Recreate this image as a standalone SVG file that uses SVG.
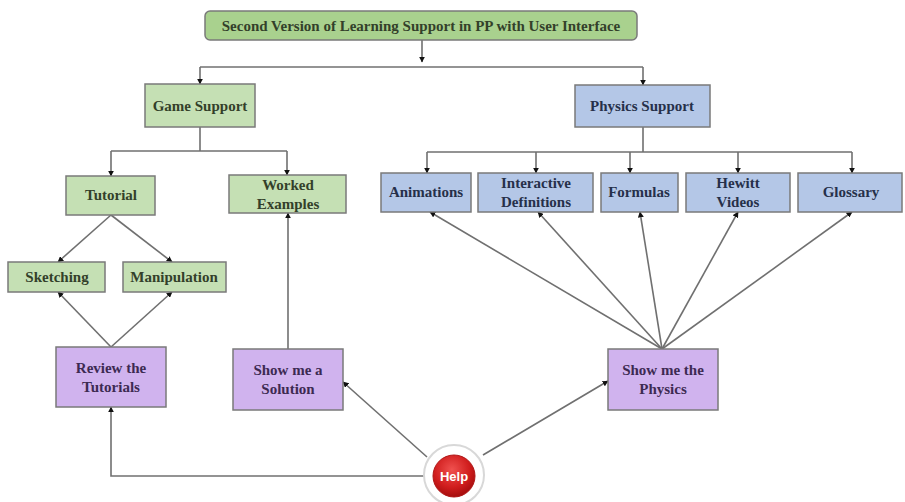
<svg xmlns="http://www.w3.org/2000/svg" width="905" height="502" viewBox="0 0 905 502">
<defs>
<marker id="ah" viewBox="0 0 10 10" refX="9" refY="5" markerWidth="6" markerHeight="6" orient="auto" markerUnits="userSpaceOnUse">
<path d="M0,0 L10,5 L0,10 z" fill="#111"/>
</marker>
<radialGradient id="red" cx="0.45" cy="0.35" r="0.7">
<stop offset="0" stop-color="#f0514f"/>
<stop offset="0.6" stop-color="#d01d1d"/>
<stop offset="1" stop-color="#9c0a0a"/>
</radialGradient>
</defs>
<style>
.g{fill:#c5e0b4;stroke:#7a7a7a;stroke-width:1.5}
.gt{fill:#a9d18e;stroke:#7a7a7a;stroke-width:1.5}
.b{fill:#b4c7e7;stroke:#7a7a7a;stroke-width:1.5}
.p{fill:#d0b3ee;stroke:#7a7a7a;stroke-width:1.5}
text{font-family:"Liberation Serif","Times New Roman",serif;font-size:15px;font-weight:bold;text-anchor:middle}
.tg{fill:#33402a}
.tb{fill:#26304a}
.tp{fill:#3d2a52}
.c{fill:none;stroke:#707070;stroke-width:1.6}
.ca{fill:none;stroke:#707070;stroke-width:1.6;marker-end:url(#ah)}
</style>
<rect width="905" height="502" fill="#fff"/>

<g id="connectors">
<path class="ca" d="M422,40 V62"/>
<path class="c" d="M200,67 H643"/>
<path class="ca" d="M200,67 V84"/>
<path class="ca" d="M643,67 V85"/>
<path class="c" d="M200,127 V151 M111,151 H287"/>
<path class="ca" d="M111,151 V176"/>
<path class="ca" d="M287,151 V175"/>
<path class="c" d="M643,127 V152 M427,152 H852"/>
<path class="ca" d="M427,152 V173"/>
<path class="ca" d="M536,152 V173"/>
<path class="ca" d="M630,152 V173"/>
<path class="ca" d="M738,152 V173"/>
<path class="ca" d="M852,152 V173"/>
<path class="ca" d="M111,215 L58,262"/>
<path class="ca" d="M111,215 L172,262"/>
<path class="ca" d="M111,347 L58,292"/>
<path class="ca" d="M111,347 L172,292"/>
<path class="ca" d="M288,349 V213"/>
<path class="ca" d="M662,349 L430,212"/>
<path class="ca" d="M662,349 L538,212"/>
<path class="ca" d="M662,349 L640,212"/>
<path class="ca" d="M662,349 L738,212"/>
<path class="ca" d="M662,349 L852,212"/>
<path class="ca" d="M427,457 L343,382"/>
<path class="ca" d="M424,476 H111 V407"/>
<path class="ca" d="M483,455 L608,381"/>
</g>

<g id="title">
<rect class="gt" x="205" y="11" width="432" height="29" rx="5"/>
<text class="tg" x="421" y="31">Second Version of Learning Support in PP with User Interface</text>
</g>
<g id="game-support">
<rect class="g" x="145" y="84" width="110" height="43"/>
<text class="tg" x="200" y="111">Game Support</text>
</g>
<g id="physics-support">
<rect class="b" x="575" y="85" width="135" height="42"/>
<text class="tb" x="642" y="111">Physics Support</text>
</g>
<g id="tutorial">
<rect class="g" x="66" y="176" width="89" height="39"/>
<text class="tg" x="111" y="200">Tutorial</text>
</g>
<g id="worked-examples">
<rect class="g" x="229" y="175" width="117" height="38"/>
<text class="tg" x="288" y="190">Worked</text>
<text class="tg" x="288" y="209">Examples</text>
</g>
<g id="animations">
<rect class="b" x="381" y="173" width="90" height="39"/>
<text class="tb" x="426" y="197">Animations</text>
</g>
<g id="interactive-definitions">
<rect class="b" x="478" y="173" width="115" height="39"/>
<text class="tb" x="536" y="188">Interactive</text>
<text class="tb" x="536" y="207">Definitions</text>
</g>
<g id="formulas">
<rect class="b" x="601" y="173" width="77" height="39"/>
<text class="tb" x="639" y="197">Formulas</text>
</g>
<g id="hewitt-videos">
<rect class="b" x="686" y="173" width="104" height="39"/>
<text class="tb" x="738" y="188">Hewitt</text>
<text class="tb" x="738" y="207">Videos</text>
</g>
<g id="glossary">
<rect class="b" x="798" y="173" width="104" height="39"/>
<text class="tb" x="851" y="197">Glossary</text>
</g>
<g id="sketching">
<rect class="g" x="8" y="262" width="97" height="30"/>
<text class="tg" x="57" y="282">Sketching</text>
</g>
<g id="manipulation">
<rect class="g" x="123" y="262" width="103" height="30"/>
<text class="tg" x="174" y="282">Manipulation</text>
</g>
<g id="review-tutorials">
<rect class="p" x="56" y="347" width="110" height="60"/>
<text class="tp" x="111" y="373">Review the</text>
<text class="tp" x="111" y="392">Tutorials</text>
</g>
<g id="show-solution">
<rect class="p" x="233" y="349" width="110" height="61"/>
<text class="tp" x="288" y="375">Show me a</text>
<text class="tp" x="288" y="394">Solution</text>
</g>
<g id="show-physics">
<rect class="p" x="608" y="349" width="110" height="61"/>
<text class="tp" x="663" y="375">Show me the</text>
<text class="tp" x="663" y="394">Physics</text>
</g>
<g id="help">
<circle cx="454" cy="475" r="30" fill="#fff" stroke="#d8d8d8" stroke-width="2"/>
<circle cx="454" cy="476" r="21" fill="url(#red)" stroke="#b01515" stroke-width="1"/>
<text x="454" y="481" fill="#fff" style="font-family:'Liberation Sans',Arial,sans-serif;font-size:13px;font-weight:bold">Help</text>
</g>
</svg>
